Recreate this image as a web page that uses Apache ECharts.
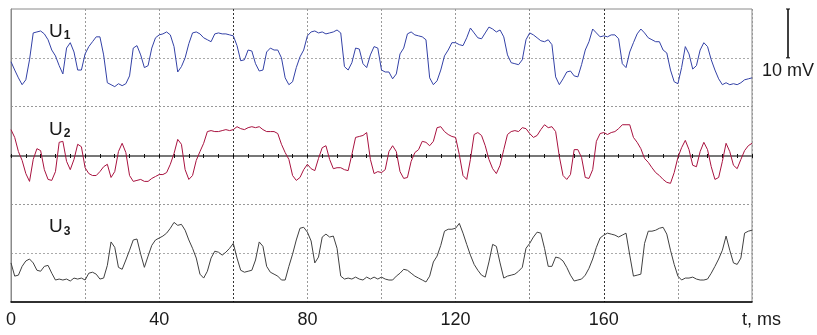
<!DOCTYPE html>
<html>
<head>
<meta charset="utf-8">
<script src="https://cdn.jsdelivr.net/npm/echarts@6/dist/echarts.min.js"></script>
<style>
  html, body { margin: 0; padding: 0; background: #fff; }
  #chart { width: 817px; height: 335px; }
</style>
</head>
<body>
<div id="chart"></div>
<script>
// time in ms, one sample per ms (0..200)
const tMax = 200
const xLabels = [0, 40, 80, 120, 160]
// offsets of the three traces on the screen (mV)
const offsets = [50, 30, 10]
// deviations from each trace's centre line, mV
const u1 = [
  -0.8, -2.5, -4.1, -5.5, -4.5, -0.4, 5.1, 5.3, 5.5, 4.9,
  3.7, 1.6, 0.4, -1.6, -3.3, 2.0, 3.1, 1.2, -2.5, -2.5,
  0.8, 2.3, 3.3, 4.3, 4.3, 0.6, -5.1, -5.5, -5.9, -5.3,
  -5.7, -5.3, -3.7, 2.0, 2.5, 0.6, -2.0, -1.6, 2.0, 4.1,
  4.7, 4.9, 5.3, 4.7, 2.3, -2.9, -1.8, 0, 2.9, 5.1,
  5.3, 4.9, 4.1, 3.7, 3.3, 4.9, 5.1, 4.9, 4.9, 4.7,
  4.5, 2.5, -0.6, -0.4, 1.6, 1.4, -1.2, -2.7, -2.5, 1.2,
  2.0, 1.6, 1.6, 0, -4.1, -5.5, -4.9, -2.0, 0.2, 1.6,
  4.5, 5.3, 5.5, 5.1, 5.3, 4.9, 5.1, 5.3, 5.7, 5.1,
  -1.8, -2.5, -1.0, 2.0, 1.8, -1.2, -2.0, 0.6, 2.3, 2.0,
  -2.5, -2.9, -2.9, -4.3, -3.3, 0.8, 2.0, 4.9, 5.3, 4.7,
  4.5, 4.3, 3.7, -4.1, -5.5, -4.7, -2.5, 0.4, 1.6, 3.1,
  3.1, 2.7, 2.5, 4.1, 6.1, 5.1, 4.1, 3.9, 5.1, 6.3,
  5.9, 5.3, 5.7, 4.3, 0.6, -1.0, -1.2, -1.4, -0.4, 3.7,
  5.1, 4.7, 4.1, 3.5, 3.3, 3.7, 2.7, -3.9, -5.5, -4.3,
  -2.9, -2.7, -3.7, -3.9, -1.4, 1.6, 3.3, 5.9, 5.1, 4.3,
  4.5, 4.3, 4.7, 4.7, 3.9, -1.2, -2.0, 1.2, 3.1, 4.9,
  5.9, 5.1, 4.1, 3.7, 3.3, 3.3, 1.6, 1.0, -2.5, -4.9,
  -5.3, -2.0, 2.3, 0.8, -2.3, -1.6, 1.6, 3.1, 2.3, -0.4,
  -2.5, -4.3, -5.5, -5.1, -5.5, -5.3, -5.5, -5.1, -4.5, -4.3, -4.1
]
const u2 = [
  5.3, 3.7, 0.8, -1.0, -3.7, -5.3, -0.8, 1.4, 1.0, -2.9,
  -4.9, -5.1, -3.3, 2.7, 2.9, -1.2, -2.9, -0.8, 2.3, 1.8,
  -2.5, -3.7, -4.1, -4.1, -3.3, -2.3, -1.8, -4.5, -3.3, 0.8,
  2.5, 0.6, -4.1, -5.3, -5.1, -4.9, -5.3, -5.3, -4.7, -4.3,
  -3.9, -3.9, -3.5, -1.8, 0.4, 3.3, 2.3, -2.9, -4.9, -4.1,
  -1.0, 0.8, 2.5, 4.9, 5.1, 4.9, 4.9, 5.1, 5.3, 5.1,
  5.3, 5.9, 5.5, 5.3, 5.7, 5.9, 5.7, 5.9, 5.3, 4.9,
  4.9, 4.9, 4.5, 2.3, 0.6, -0.8, -4.1, -5.1, -4.5, -2.9,
  -1.8, -2.7, -3.1, -0.6, 1.6, 2.0, -0.8, -2.7, -2.5, -2.5,
  -2.9, -3.1, 0.2, 3.7, 3.9, 4.1, 4.7, -0.8, -3.7, -3.3,
  -3.5, -2.9, 0.8, 2.0, 0.8, -3.3, -4.7, -4.5, -1.2, 0.6,
  1.2, 2.9, 2.7, 2.0, 2.9, 5.7, 5.9, 4.9, 4.3, 3.9,
  3.7, 0.2, -4.1, -4.9, -0.8, 4.3, 4.7, 4.1, 2.0, -0.8,
  -2.7, -3.7, -2.0, 1.2, 4.3, 4.9, 5.1, 4.9, 5.7, 5.5,
  4.5, 3.7, 4.1, 5.3, 6.3, 5.7, 5.9, 4.9, -0.2, -4.1,
  -4.9, -3.9, 1.2, 1.2, -0.4, -4.5, -4.7, -2.9, 2.9, 4.5,
  4.7, 4.3, 4.7, 4.9, 5.5, 6.3, 6.3, 6.3, 3.7, 2.7,
  1.4, -0.6, -1.4, -2.5, -3.5, -4.1, -4.9, -5.5, -5.7, -3.5,
  -0.4, 1.6, 3.1, 1.2, -2.0, -2.3, 0.8, 2.7, 1.2, -2.3,
  -4.9, -4.5, -1.2, 2.5, 0.8, -2.0, -2.7, -0.8, 1.0, 2.0, 2.5
]
const u3 = [
  -2.0, -4.7, -4.5, -2.7, -1.6, -1.2, -2.0, -3.5, -3.7, -2.7,
  -2.5, -4.1, -5.5, -5.3, -5.5, -5.3, -5.7, -5.1, -5.3, -5.1,
  -5.5, -4.1, -3.9, -4.3, -5.3, -5.1, -2.5, 2.3, 1.2, -2.9,
  -3.3, -1.4, 0.6, 2.7, 2.9, -0.2, -2.9, -0.6, 1.6, 2.7,
  3.1, 3.5, 4.1, 5.1, 6.3, 5.7, 5.9, 4.7, 2.7, 1.0,
  -1.0, -4.3, -5.1, -3.7, -1.0, 0.4, 0.2, -0.4, 0.2, 1.0,
  2.0, -1.0, -3.5, -3.9, -3.7, -3.5, -1.4, 2.3, 1.4, -2.7,
  -3.9, -4.3, -4.7, -5.5, -5.5, -2.7, -0.2, 2.7, 5.1, 5.3,
  4.3, 2.5, -2.0, -0.8, 3.3, 3.9, 3.3, 3.5, 1.0, -4.7,
  -5.3, -5.1, -5.3, -4.9, -5.3, -5.5, -4.9, -5.3, -4.9, -5.3,
  -4.9, -5.3, -5.5, -5.5, -4.7, -4.1, -3.3, -3.5, -4.1, -4.7,
  -5.1, -5.5, -5.9, -4.7, -1.8, -0.6, 1.6, 4.5, 4.9, 4.9,
  5.1, 6.1, 4.1, 1.8, -0.4, -2.3, -3.5, -4.5, -4.9, -1.8,
  1.8, 1.4, -2.0, -5.1, -4.7, -4.5, -4.3, -3.7, -2.9, 1.0,
  2.0, 3.3, 4.3, 4.1, 1.0, -2.7, -2.7, -0.8, -1.0, -1.6,
  -2.9, -4.5, -5.7, -5.5, -5.3, -4.5, -3.1, -1.2, 1.2, 3.1,
  3.7, 4.1, 3.9, 3.7, 3.3, 3.7, 4.1, -0.4, -4.7, -4.5,
  -4.3, 2.0, 4.5, 4.5, 4.7, 5.1, 5.3, 3.9, 0.6, -2.3,
  -4.7, -5.5, -5.1, -5.1, -4.9, -5.3, -5.5, -5.5, -5.3, -4.1,
  -2.7, -1.2, 0.6, 3.5, 0.6, -2.0, -2.3, -1.0, 4.1, 4.5, 4.7
]
const traces = [u1, u2, u3]
const traceColors = ['#3341a6', '#a8123f', '#404040']
const traceNames = ['1', '2', '3']

const font = 'Liberation Sans, Arial, sans-serif'
const chart = echarts.init(document.getElementById('chart'))

const toPoints = (arr, off) => arr.map((v, i) => [i, +(off + v).toFixed(2)])

const option = {
  animation: false,
  grid: [
    { left: 11, right: 65, top: 9, bottom: 33, show: true, borderColor: '#8a8a8a', borderWidth: 1 },
    // only used to draw the centre line of U2
    { left: 11, right: 65, top: 9, height: 147 }
  ],
  xAxis: [
    {
      type: 'value',
      min: 0,
      max: tMax,
      interval: 20,
      axisLine: { show: true, lineStyle: { color: '#000', width: 1.5 } },
      axisTick: { show: false },
      axisLabel: {
        interval: 1,
        color: '#1a1a1a',
        fontFamily: font,
        fontSize: 18,
        margin: 9,
        formatter: v => (xLabels.includes(v) ? String(v) : '')
      },
      splitLine: {
        show: true,
        lineStyle: {
          type: [2, 2],
          width: 1,
          color: ['#999', '#999', '#999', '#333', '#999', '#999', '#999', '#888', '#333', '#999', '#999']
        }
      }
    },
    {
      // U2 centre line
      gridIndex: 1,
      type: 'value',
      position: 'bottom',
      min: 0,
      max: tMax,
      interval: 4,
      axisLine: { show: true, lineStyle: { color: '#777', width: 2 } },
      axisTick: { show: false },
      axisLabel: { show: false },
      splitLine: { show: false }
    },
    {
      gridIndex: 1,
      type: 'value',
      position: 'bottom',
      min: 0,
      max: tMax,
      interval: 4,
      offset: 2,
      axisLine: { show: false },
      axisTick: { show: true, inside: true, length: 4, lineStyle: { color: '#111', width: 1 } },
      axisLabel: { show: false },
      splitLine: { show: false }
    }
  ],
  yAxis: [
    {
      type: 'value',
      min: 0,
      max: 60,
      interval: 10,
      axisLine: { show: true, lineStyle: { color: '#8a8a8a', width: 1 } },
      axisTick: { show: false },
      axisLabel: { show: false },
      splitLine: {
        show: true,
        lineStyle: {
          type: [2, 2],
          width: 1,
          color: ['transparent', '#aaa', '#999', 'transparent', '#999', '#aaa', 'transparent']
        }
      }
    },
    { gridIndex: 1, type: 'value', min: 0, max: 1, show: false }
  ],
  series: traces.map((arr, k) => ({
    type: 'line',
    xAxisIndex: 0,
    yAxisIndex: 0,
    data: toPoints(arr, offsets[k]),
    showSymbol: false,
    symbol: 'none',
    lineStyle: { color: traceColors[k], width: 1 },
    z: 5
  }))
}
chart.setOption(option)

// annotations placed from the axis scales
const pTop = chart.convertToPixel({ gridIndex: 0 }, [tMax, 60])
const pTen = chart.convertToPixel({ gridIndex: 0 }, [tMax, 50])
const pOrigin = chart.convertToPixel({ gridIndex: 0 }, [0, 0])
const barX = pTop[0] + 36
const labelGraphics = traces.map((arr, k) => {
  const c = chart.convertToPixel({ gridIndex: 0 }, [0, offsets[k] + 5])
  return {
    type: 'text',
    left: pOrigin[0] + 38,
    top: c[1] - 11,
    style: {
      text: '{u|U}{s|' + traceNames[k] + '}',
      rich: {
        u: { fontFamily: font, fontSize: 19, fill: '#1a1a1a' },
        s: { fontFamily: font, fontSize: 12, fontWeight: 'bold', fill: '#1a1a1a', padding: [8, 0, 0, 1] }
      }
    }
  }
})

chart.setOption({
  graphic: [
    ...labelGraphics,
    {
      type: 'line',
      shape: { x1: barX, y1: pTop[1], x2: barX, y2: pTen[1] },
      style: { stroke: '#000', lineWidth: 1.5 }
    },
    {
      type: 'line',
      shape: { x1: barX - 2, y1: pTop[1], x2: barX + 2, y2: pTop[1] },
      style: { stroke: '#000', lineWidth: 1 }
    },
    {
      type: 'line',
      shape: { x1: barX - 2, y1: pTen[1], x2: barX + 2, y2: pTen[1] },
      style: { stroke: '#000', lineWidth: 1 }
    },
    {
      type: 'text',
      left: barX - 26,
      top: pTen[1] + 4,
      style: { text: '10 mV', fontFamily: font, fontSize: 18, fill: '#1a1a1a' }
    },
    {
      type: 'text',
      left: pTop[0] - 10,
      top: pOrigin[1] + 9,
      style: { text: 't, ms', fontFamily: font, fontSize: 18, fill: '#1a1a1a' }
    }
  ]
})
</script>
</body>
</html>
